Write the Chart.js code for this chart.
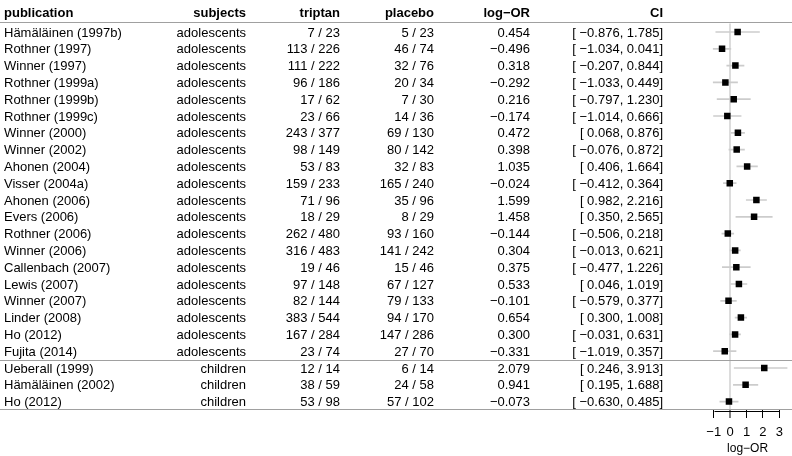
<!DOCTYPE html>
<html>
<head>
<meta charset="utf-8">
<script src="https://cdn.jsdelivr.net/npm/chart.js@4.4.0/dist/chart.umd.min.js"></script>
<style>
  html, body { margin: 0; padding: 0; background: #fff; }
  #wrap { width: 792px; height: 456px; position: relative; }
</style>
</head>
<body>
<div id="wrap"><canvas id="stage"></canvas></div>
<script>
// studies (one entry per row, top to bottom)
let publication = ['Hämäläinen (1997b)', 'Rothner (1997)', 'Winner (1997)', 'Rothner (1999a)', 'Rothner (1999b)',
  'Rothner (1999c)', 'Winner (2000)', 'Winner (2002)', 'Ahonen (2004)', 'Visser (2004a)', 'Ahonen (2006)',
  'Evers (2006)', 'Rothner (2006)', 'Winner (2006)', 'Callenbach (2007)', 'Lewis (2007)', 'Winner (2007)',
  'Linder (2008)', 'Ho (2012)', 'Fujita (2014)', 'Ueberall (1999)', 'Hämäläinen (2002)', 'Ho (2012)'];
let subjects = ['adolescents', 'adolescents', 'adolescents', 'adolescents', 'adolescents', 'adolescents',
  'adolescents', 'adolescents', 'adolescents', 'adolescents', 'adolescents', 'adolescents', 'adolescents',
  'adolescents', 'adolescents', 'adolescents', 'adolescents', 'adolescents', 'adolescents', 'adolescents',
  'children', 'children', 'children'];
let triptanEvents = [7, 113, 111, 96, 17, 23, 243, 98, 53, 159, 71, 18, 262, 316, 19, 97, 82, 383, 167, 23, 12, 38, 53];
let triptanTotal = [23, 226, 222, 186, 62, 66, 377, 149, 83, 233, 96, 29, 480, 483, 46, 148, 144, 544, 284, 74, 14, 59, 98];
let placeboEvents = [5, 46, 32, 20, 7, 14, 69, 80, 32, 165, 35, 8, 93, 141, 15, 67, 79, 94, 147, 27, 6, 24, 57];
let placeboTotal = [23, 74, 76, 34, 30, 36, 130, 142, 83, 240, 96, 29, 160, 242, 46, 127, 133, 170, 286, 70, 14, 58, 102];
let logOR = [0.454, -0.496, 0.318, -0.292, 0.216, -0.174, 0.472, 0.398, 1.035, -0.024, 1.599, 1.458, -0.144,
  0.304, 0.375, 0.533, -0.101, 0.654, 0.300, -0.331, 2.079, 0.941, -0.073];
let ciLow = [-0.876, -1.034, -0.207, -1.033, -0.797, -1.014, 0.068, -0.076, 0.406, -0.412, 0.982, 0.350, -0.506,
  -0.013, -0.477, 0.046, -0.579, 0.300, -0.031, -1.019, 0.246, 0.195, -0.630];
let ciHigh = [1.785, 0.041, 0.844, 0.449, 1.230, 0.666, 0.876, 0.872, 1.664, 0.364, 2.216, 2.565, 0.218,
  0.621, 1.226, 1.019, 0.377, 1.008, 0.631, 0.357, 3.913, 1.688, 0.485];
let axisTicks = [-1, 0, 1, 2, 3];

const MINUS = '\u2212';
function fmt(v) { return (v < 0 ? MINUS : '') + Math.abs(v).toFixed(3); }

Chart.defaults.font.family = "'Liberation Sans', Arial, Helvetica, sans-serif";
Chart.defaults.font.size = 13;
Chart.defaults.color = '#000';

// table columns: right edge (or left edge) of each text column
var columns = [
  { title: 'publication', x: 4, align: 'left', text: i => publication[i] },
  { title: 'subjects', x: 246, align: 'right', text: i => subjects[i] },
  { title: 'triptan', x: 340, align: 'right', text: i => triptanEvents[i] + ' / ' + triptanTotal[i] },
  { title: 'placebo', x: 434, align: 'right', text: i => placeboEvents[i] + ' / ' + placeboTotal[i] },
  { title: 'log' + MINUS + 'OR', x: 530, align: 'right', text: i => fmt(logOR[i]) },
  { title: 'CI', x: 663, align: 'right', text: i => '[ ' + fmt(ciLow[i]) + ', ' + fmt(ciHigh[i]) + ']' }
];

// draws the text table, the grey rules, the short axis line and its title
var tablePlugin = {
  id: 'table',
  afterDraw(chart) {
    const ctx = chart.ctx;
    const area = chart.chartArea;
    const ys = chart.scales.y;
    const xs = chart.scales.x;
    ctx.save();
    ctx.textBaseline = 'middle';
    ctx.fillStyle = '#000';
    // header
    ctx.font = "bold 13px 'Liberation Sans', Arial, sans-serif";
    columns.forEach(c => {
      ctx.textAlign = c.align;
      ctx.fillText(c.title, c.x, area.top - 10.5);
    });
    // rows
    ctx.font = "13px 'Liberation Sans', Arial, sans-serif";
    publication.forEach((p, i) => {
      const y = ys.getPixelForValue(i);
      columns.forEach(c => {
        ctx.textAlign = c.align;
        ctx.fillText(c.text(i), c.x, y + 1);
      });
    });
    // grey rules
    ctx.strokeStyle = '#a0a0a0';
    ctx.lineWidth = 1;
    const sep = Math.round((ys.getPixelForValue(19) + ys.getPixelForValue(20)) / 2) + 0.5;
    [Math.round(area.top) - 1.5, sep, Math.round(area.bottom) - 0.5].forEach(y => {
      ctx.beginPath();
      ctx.moveTo(0, y);
      ctx.lineTo(chart.width, y);
      ctx.stroke();
    });
    // axis line from first to last tick
    const x0 = xs.getPixelForValue(axisTicks[0]);
    const x1 = xs.getPixelForValue(axisTicks[axisTicks.length - 1]);
    ctx.strokeStyle = '#000';
    ctx.beginPath();
    ctx.moveTo(Math.round(x0) + 0.5, xs.top + 1.5);
    ctx.lineTo(Math.round(x1) + 0.5, xs.top + 1.5);
    ctx.stroke();
    // axis title, centred under the ticks
    ctx.font = "12px 'Liberation Sans', Arial, sans-serif";
    ctx.textAlign = 'center';
    ctx.fillText('log' + MINUS + 'OR', (x0 + x1) / 2 + 1, xs.top + 38.5);
    ctx.restore();
  }
};

var canvas = document.getElementById('stage');
var chart = new Chart(canvas, {
  type: 'bar',
  data: {
    labels: publication,
    datasets: [
      {
        type: 'scatter',
        label: 'log-OR',
        data: logOR.map((v, i) => ({ x: v, y: i })),
        pointStyle: 'rect',
        pointRadius: 4.6,
        pointBorderWidth: 0,
        backgroundColor: '#000',
        borderColor: '#000',
        order: 0
      },
      {
        type: 'bar',
        label: 'CI',
        indexAxis: 'y',
        data: ciLow.map((lo, i) => [lo, ciHigh[i]]),
        backgroundColor: '#cccccc',
        barThickness: 1,
        order: 1
      }
    ]
  },
  options: {
    responsive: true,
    maintainAspectRatio: false,
    animation: false,
    layout: { padding: { left: 690, top: 23.6, right: 0, bottom: 0 } },
    plugins: { legend: { display: false }, tooltip: { enabled: false } },
    scales: {
      y: {
        type: 'category',
        display: false,
        offset: true,
        grid: { display: false }
      },
      x: {
        type: 'linear',
        position: 'bottom',
        min: -2.45,
        max: 3.49,
        offset: false,
        beginAtZero: false,
        afterBuildTicks: s => { s.ticks = axisTicks.map(v => ({ value: v })); },
        afterFit: s => { s.height = 46; },
        border: { display: false },
        grid: {
          offset: false,
          drawOnChartArea: true,
          color: c => (c.tick && c.tick.value === 0 ? '#dcdcdc' : 'rgba(0,0,0,0)'),
          lineWidth: c => (c.tick && c.tick.value === 0 ? 2 : 1),
          tickColor: '#000',
          tickWidth: 1,
          tickLength: 8
        },
        ticks: {
          padding: 7,
          maxRotation: 0,
          autoSkip: false,
          font: { size: 13 },
          callback: v => (v < 0 ? MINUS + Math.abs(v) : String(v))
        },
        title: { display: false }
      }
    }
  },
  plugins: [tablePlugin]
});
</script>
</body>
</html>
